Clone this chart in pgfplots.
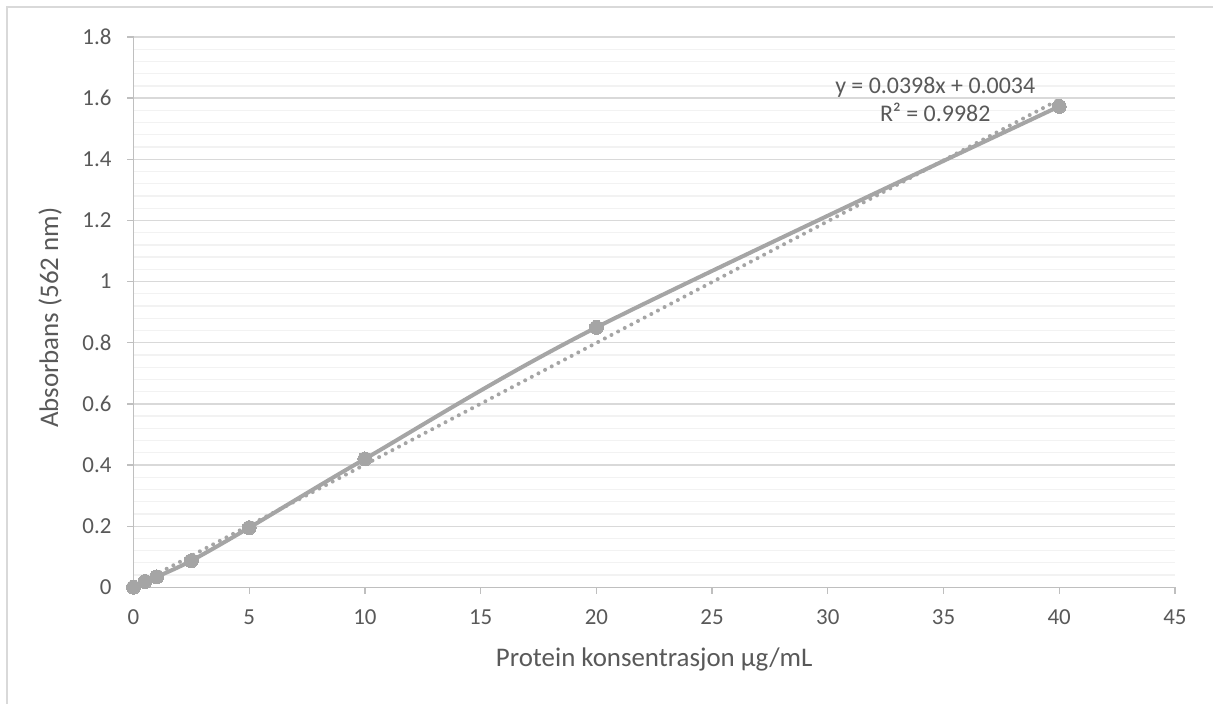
\documentclass[border=0pt]{standalone}
\usepackage{pgfplots}
\pgfplotsset{compat=1.18}
\usepackage{fontspec}
\setmainfont{Carlito}

\definecolor{seriesgray}{HTML}{A5A5A5}
\definecolor{majorgrid}{HTML}{D9D9D9}
\definecolor{minorgrid}{HTML}{F2F2F2}
\definecolor{axisgray}{HTML}{BFBFBF}
\definecolor{textgray}{HTML}{595959}

\begin{document}
\begin{tikzpicture}
\useasboundingbox (0,0) rectangle (1213bp,704bp);
\fill[white] (0,0) rectangle (1213bp,704bp);
% chart frame
\draw[majorgrid, line width=2bp] (7bp,0) -- (7bp,697bp) -- (1213bp,697bp);
\begin{axis}[
  at={(133.5bp,116.7bp)}, anchor=south west,
  width=1041.5bp, height=550.3bp, scale only axis,
  xmin=0, xmax=45, ymin=0, ymax=1.8,
  xtick={0,5,10,15,20,25,30,35,40,45},
  ytick={0,0.2,0.4,0.6,0.8,1,1.2,1.4,1.6,1.8},
  minor y tick num=4,
  ymajorgrids, yminorgrids,
  major grid style={majorgrid, line width=1.3bp},
  minor grid style={minorgrid, line width=1.3bp},
  axis x line*=bottom, axis y line*=left,
  axis line style={axisgray, line width=1.3bp, -},
  tick align=outside, major tick length=6.5bp, minor tick length=0pt,
  tick style={axisgray, line width=1.3bp},
  ticklabel style={font=\fontsize{23}{27}\selectfont, text=textgray},
  xticklabel style={yshift=-12bp},
  yticklabel style={xshift=-12bp},
  /pgf/number format/assume math mode=true,
  /pgf/number format/fixed,
  xlabel={Protein konsentrasjon µg/mL},
  ylabel={Absorbans (562 nm)},
  label style={font=\fontsize{27}{32}\selectfont, text=textgray},
  xlabel style={at={(axis description cs:0.5,0)}, anchor=base, yshift=-79.7bp},
  ylabel style={at={(axis description cs:0,0.5)}, anchor=base, yshift=75.5bp, xshift=-5.5bp},
  clip=false,
]
% linear trendline
\addplot[seriesgray, line width=4bp, dash pattern=on 0bp off 7.5bp, line cap=round]
  coordinates {(0,0.0034) (40,1.5954)};
% measured standards
\addplot[seriesgray, line width=4bp, smooth, mark=*, mark size=7bp,
  mark options={solid, fill=seriesgray, draw=seriesgray, line width=0bp}]
  coordinates {(0,0) (0.5,0.019) (1,0.034) (2.5,0.087) (5,0.195) (10,0.42) (20,0.85) (40,1.573)};
\node[font=\fontsize{24}{29}\selectfont, text=textgray, anchor=base] at (axis cs:34.64,1.6164) {y = 0.0398x + 0.0034};
\node[font=\fontsize{24}{29}\selectfont, text=textgray, anchor=base] at (axis cs:34.64,1.5226) {R² = 0.9982};
\end{axis}
\end{tikzpicture}
\end{document}
